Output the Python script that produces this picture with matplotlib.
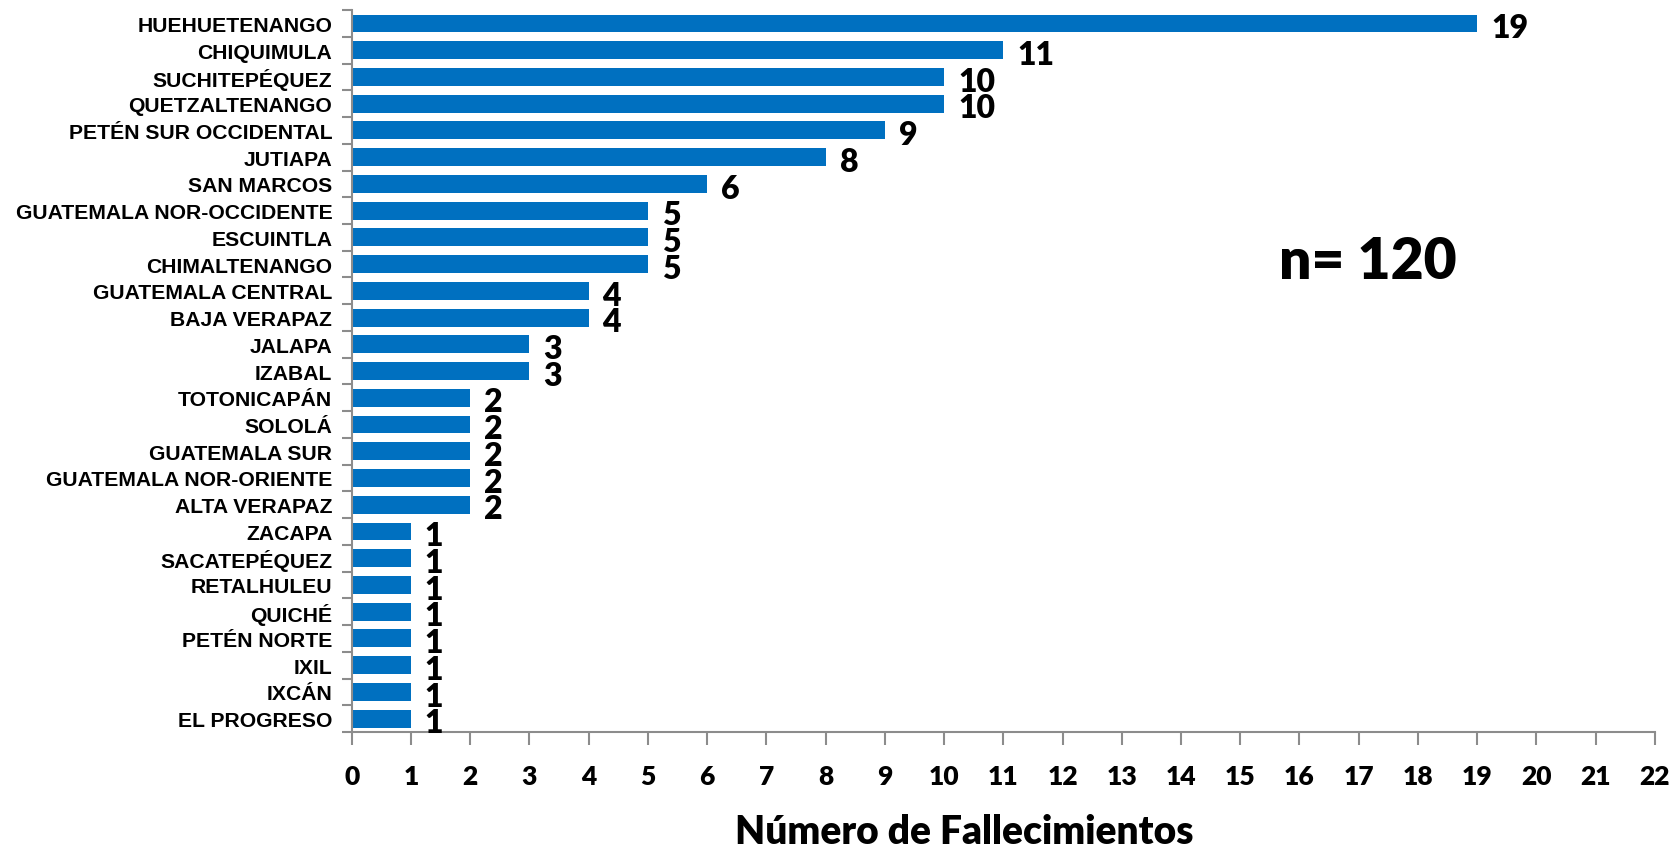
import numpy as np
import matplotlib
matplotlib.use("Agg")
from matplotlib import pyplot as plt

# data (top bar first)
departamentos = ["HUEHUETENANGO", "CHIQUIMULA", "SUCHITEPÉQUEZ", "QUETZALTENANGO",
                 "PETÉN SUR OCCIDENTAL", "JUTIAPA", "SAN MARCOS",
                 "GUATEMALA NOR-OCCIDENTE", "ESCUINTLA", "CHIMALTENANGO",
                 "GUATEMALA CENTRAL", "BAJA VERAPAZ", "JALAPA", "IZABAL",
                 "TOTONICAPÁN", "SOLOLÁ", "GUATEMALA SUR", "GUATEMALA NOR-ORIENTE",
                 "ALTA VERAPAZ", "ZACAPA", "SACATEPÉQUEZ", "RETALHULEU", "QUICHÉ",
                 "PETÉN NORTE", "IXIL", "IXCÁN", "EL PROGRESO"]
fallecimientos = [19, 11, 10, 10, 9, 8, 6, 5, 5, 5, 4, 4, 3, 3,
                  2, 2, 2, 2, 2, 1, 1, 1, 1, 1, 1, 1, 1]
x_ticks = list(range(0, 23))
total_label = "n= 120"
x_title = "Número de Fallecimientos"

bar_color = "#0070C0"
axis_color = "#8C8C8C"
num_font = "Lato"

fig = plt.figure(figsize=(16.75, 8.54), dpi=100)
ax = fig.add_axes([0.210, 0.1417, 0.778, 0.8453])

y = np.arange(len(departamentos))[::-1]
bars = ax.barh(y, fallecimientos, height=0.67, color=bar_color, zorder=2)

for rect, val in zip(bars, fallecimientos):
    ax.annotate(str(val), (rect.get_width(), rect.get_y() + rect.get_height() / 2),
                xytext=(10, -3), textcoords="offset points", ha="left", va="center",
                fontsize=23, fontweight="heavy", family=num_font, color="black")

ax.set_xlim(0, 22)
ax.set_ylim(-0.5, len(departamentos) - 0.5)

ax.set_yticks(y)
ax.set_yticklabels(departamentos, family="Liberation Sans", fontweight="bold", fontsize=15.2)
ax.set_yticks(np.arange(-0.5, len(departamentos), 1), minor=True)
ax.tick_params(axis="y", which="major", length=0, pad=14)
ax.tick_params(axis="y", which="minor", length=7, width=1.5, color=axis_color)

ax.set_xticks(x_ticks)
ax.set_xticklabels([str(t) for t in x_ticks], family=num_font, fontweight="heavy", fontsize=19)
ax.tick_params(axis="x", length=9, width=1.5, color=axis_color, pad=14)

for side in ["top", "right"]:
    ax.spines[side].set_visible(False)
for side in ["left", "bottom"]:
    ax.spines[side].set_color(axis_color)
    ax.spines[side].set_linewidth(1.5)

ax.set_xlabel(x_title, family=num_font, fontweight="heavy", fontsize=28, labelpad=18)
ax.xaxis.label.set_x(0.47)

ax.text(17.15, 17.1, total_label, family=num_font, fontweight="heavy", fontsize=41,
        ha="center", va="center")

fig.savefig("out.png", dpi=100)
